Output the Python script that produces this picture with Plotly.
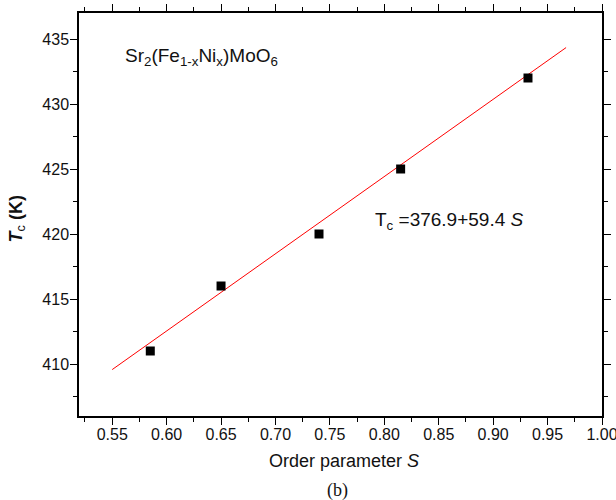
import numpy as np
import plotly.graph_objects as go

# Order parameter S and Curie temperature Tc (K) for Sr2(Fe1-xNix)MoO6
order_s = [0.585, 0.65, 0.74, 0.815, 0.932]
tc_k = [411, 416, 420, 425, 432]

# Linear fit Tc = a + b*S, drawn over S in [0.55, 0.967]
fit_a = 376.9
fit_b = 59.4
fit_s = [0.55, 0.967]
fit_tc = [fit_a + fit_b * s for s in fit_s]

x_ticks = [0.55, 0.60, 0.65, 0.70, 0.75, 0.80, 0.85, 0.90, 0.95, 1.00]
y_ticks = [410, 415, 420, 425, 430, 435]

FONT = "Liberation Sans, Arial, sans-serif"

fig = go.Figure()
fig.add_trace(go.Scatter(
    x=fit_s, y=fit_tc, mode="lines",
    line=dict(color="#ff0000", width=1), showlegend=False,
))
fig.add_trace(go.Scatter(
    x=order_s, y=tc_k, mode="markers",
    marker=dict(symbol="square", size=9, color="black", line=dict(width=0)),
    showlegend=False,
))

axis_common = dict(
    showgrid=False, zeroline=False, showline=True, linecolor="black",
    linewidth=1.5, mirror="ticks", ticks="outside", ticklen=7, tickwidth=1.3,
    tickcolor="black", tickfont=dict(family=FONT, size=16, color="#111"),
    minor=dict(ticks="outside", ticklen=4, tickwidth=1.2, tickcolor="black"),
    automargin=False, ticklabeloverflow="allow",
)

fig.update_xaxes(
    range=[0.5195, 1.0], tickvals=x_ticks,
    ticktext=[f"{v:.2f}" for v in x_ticks],
    ticklabelstandoff=-4,
    **axis_common,
)
fig.update_xaxes(minor_dtick=0.025, minor_tick0=0.525)
fig.update_yaxes(
    range=[406, 437], tickvals=y_ticks,
    ticktext=[str(v) for v in y_ticks],
    ticklabelstandoff=-2,
    **axis_common,
)
fig.update_yaxes(minor_dtick=2.5, minor_tick0=407.5)

fig.add_annotation(
    x=0.5598, y=433.6, xref="x", yref="y", xanchor="left", yanchor="middle",
    text="Sr<sub>2</sub>(Fe<sub>1-x</sub>Ni<sub>x</sub>)MoO<sub>6</sub>",
    showarrow=False, font=dict(family=FONT, size=19, color="#111"),
)
fig.add_annotation(
    x=0.790, y=421.0, xref="x", yref="y", xanchor="left", yanchor="middle",
    text="T<sub>c</sub> =376.9+59.4 <i>S</i>",
    showarrow=False, font=dict(family=FONT, size=19, color="#111"),
)
fig.add_annotation(
    x=0.5076, y=-0.112, xref="paper", yref="paper", xanchor="center", yanchor="middle",
    text="Order parameter <i>S</i>", showarrow=False,
    font=dict(family=FONT, size=18, color="#111"),
)
fig.add_annotation(
    x=-0.1177, y=0.489, xref="paper", yref="paper", xanchor="center", yanchor="middle",
    text="<b><i>T</i></b><sub>c</sub><b> (K)</b>", textangle=-90, showarrow=False,
    font=dict(family=FONT, size=18, color="#111"),
)
fig.add_annotation(
    x=0.4947, y=-0.186, xref="paper", yref="paper", xanchor="center", yanchor="middle",
    text="(b)", showarrow=False,
    font=dict(family="Liberation Serif, Times New Roman, serif", size=18, color="#111"),
)

fig.update_layout(
    width=616, height=500,
    margin=dict(l=79, r=14, t=13, b=84),
    paper_bgcolor="white", plot_bgcolor="white",
)

fig.write_html("out.html")
